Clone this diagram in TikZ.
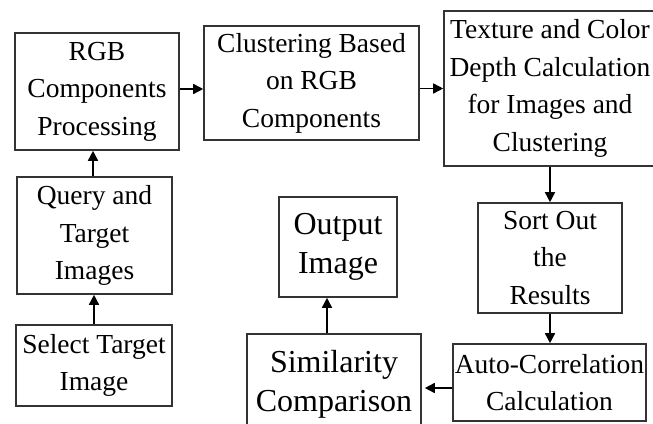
\documentclass[tikz,border=0pt]{standalone}
\usepackage{fontspec}
\setmainfont{Liberation Serif}
\usetikzlibrary{arrows.meta}
\begin{document}
\begin{tikzpicture}[x=1pt,y=-1pt,
  stepbox/.style={draw=black!80, line width=1.6pt, rectangle, inner sep=0pt,
    align=center, font=\fontsize{27.5}{37.5}\selectfont},
  bigbox/.style={stepbox, font=\fontsize{32}{39}\selectfont},
  arr/.style={draw=black, line width=1.6pt, -{Triangle[length=10pt,width=10pt]}}]
\useasboundingbox (0,0) rectangle (653,423);
\clip (0,0) rectangle (653,423);
% left column
\node[stepbox, minimum width=164pt, minimum height=117pt] (rgb) at (97,91.5)
  {RGB\\Components\\Processing};
\node[stepbox, minimum width=155pt, minimum height=117pt] (query) at (94.5,235.5)
  {Query and\\Target\\Images};
\node[stepbox, minimum width=156pt, minimum height=81pt] (select) at (94,365.5)
  {Select Target\\Image};
% top row
\node[stepbox, minimum width=215pt, minimum height=114pt] (clus) at (311.5,83)
  {Clustering Based\\on RGB\\Components};
\node[stepbox, minimum width=212pt, minimum height=155pt] (tex) at (550,88.5)
  {Texture and Color\\Depth Calculation\\for Images and\\Clustering};
% right column
\node[stepbox, minimum width=144pt, minimum height=110pt] (sort) at (550,258)
  {Sort Out\\the\\Results};
\node[stepbox, minimum width=193pt, minimum height=77pt] (auto) at (549.5,382.5)
  {Auto-Correlation\\Calculation};
% bottom middle
\node[bigbox, minimum width=174pt, minimum height=100pt] (sim) at (334,384)
  {Similarity\\Comparison};
\node[bigbox, minimum width=118pt, minimum height=100pt] (out) at (338,247)
  {Output\\Image};
% connectors
\draw[arr] (select.north) -- (select.north |- query.south);
\draw[arr] ([xshift=-1.5pt]query.north) -- ([xshift=-1.5pt]query.north |- rgb.south);
\draw[arr] ([yshift=2.5pt]rgb.east) -- ([yshift=2.5pt]rgb.east -| clus.west);
\draw[arr] (clus.east |- tex.west) -- (tex.west);
\draw[arr] (tex.south) -- (tex.south |- sort.north);
\draw[arr] (sort.south) -- (sort.south |- auto.north);
\draw[arr] ([yshift=-5.5pt]auto.west) -- ([yshift=-5.5pt,xshift=3pt]auto.west -| sim.east);
\draw[arr] ([xshift=-11pt]out.south |- sim.north) -- ([xshift=-11pt]out.south);
\end{tikzpicture}
\end{document}
